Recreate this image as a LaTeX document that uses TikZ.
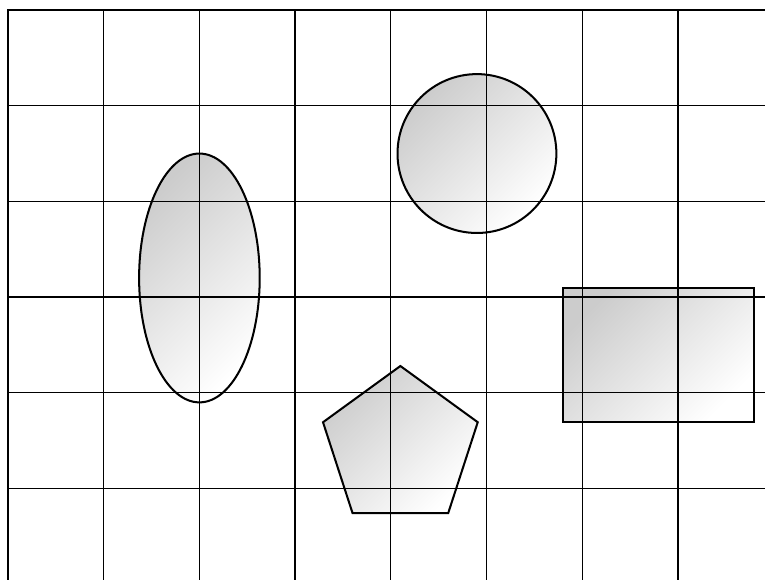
\documentclass[tikz,border=0pt]{standalone}
\usepackage{tikz}
\usetikzlibrary{calc}
\definecolor{shapegray}{RGB}{204, 204, 204}

\begin{document}
\begin{tikzpicture}[
    shapefill/.style={draw, semithick, top color=shapegray, bottom color=white, shading angle=45},
    gridline/.style={thin, black}
]
    \useasboundingbox (-0.0836,0.054) rectangle (7.91,6.1045);
    \clip (-0.0836,0.054) rectangle (7.91,6.1045);

    % shaded shapes
    \path[shapefill] (2,3.2) ellipse [x radius=0.63, y radius=1.3];
    \path[shapefill] (4.9,4.5) circle [radius=0.83];
    \path[shapefill] (5.8,1.7) rectangle (7.8,3.1);
    \coordinate (penta) at (4.1,1.43);
    \path[shapefill] ($(penta)+(90:0.85)$) -- ($(penta)+(162:0.85)$) -- ($(penta)+(234:0.85)$)
        -- ($(penta)+(306:0.85)$) -- ($(penta)+(18:0.85)$) -- cycle;

    % grid over the shapes
    \draw[gridline] (0,0) grid (8,6);
    \draw[thick] (0,0) rectangle (8,6);
\end{tikzpicture}
\end{document}
